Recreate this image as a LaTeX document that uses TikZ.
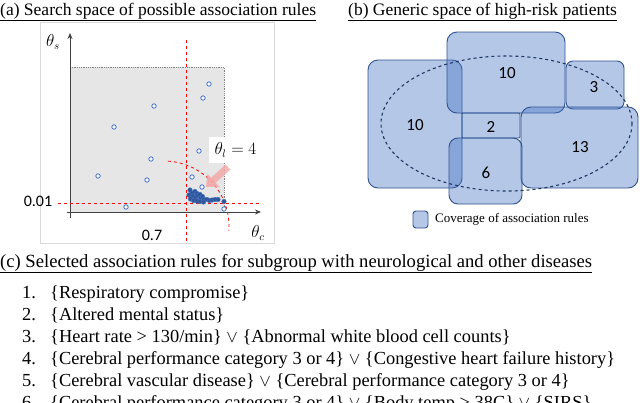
\documentclass[tikz,border=0pt]{standalone}
\usepackage{fontspec}
\setmainfont{Liberation Serif}
\newfontfamily\calib{Carlito}
\usetikzlibrary{arrows.meta}
\definecolor{boxfill}{HTML}{4472C4}
\definecolor{boxline}{HTML}{2F528F}
\definecolor{dotblue}{HTML}{4472C4}
\definecolor{darkdot}{HTML}{2F5597}
\definecolor{shadecol}{HTML}{E7E6E6}
\definecolor{framegray}{HTML}{D9D9D9}
\definecolor{axisgray}{HTML}{404040}
\definecolor{ellcol}{HTML}{1F3864}
\definecolor{pinkarrow}{HTML}{F4A6A6}
\definecolor{redcol}{HTML}{FF0000}
\tikzset{
  ttl/.style={anchor=base west, inner sep=0pt, font=\fontsize{17.5}{20}\selectfont},
  itemtxt/.style={anchor=base west, inner sep=0pt, font=\fontsize{18.4}{21}\selectfont},
  cov/.style={fill=boxfill, fill opacity=0.4, draw=boxline, line width=0.9pt, draw opacity=1},
  num/.style={inner sep=0pt, font=\calib\fontsize{17}{20}\selectfont},
  tick/.style={inner sep=0pt, font=\calib\fontsize{16}{19}\selectfont},
  mlab/.style={inner sep=0pt, font=\fontsize{16}{19}\selectfont},
  hollow/.style={draw=dotblue, fill=white, line width=0.8pt},
  solid dot/.style={draw=dotblue, fill=darkdot, line width=0.4pt},
  redline/.style={draw=redcol, dashed, line width=0.8pt},
  axisline/.style={axisgray, line width=0.8pt, -{Stealth[length=6pt,width=5pt]}}
}
\begin{document}
\begin{tikzpicture}[x=1pt,y=-1pt]
\useasboundingbox (0,0) rectangle (640,402);
\clip (0,0) rectangle (640,402);

% ---------- titles ----------
\node[ttl] (ta) at (0,15) {\underline{(a) Search space of possible association rules}};
\node[ttl] (tb) at (348,15) {\underline{(b) Generic space of high-risk patients}};
\node[ttl, font=\fontsize{18.6}{21}\selectfont] (tc) at (0,267) {\underline{(c) Selected association rules for subgroup with neurological and other diseases}};

% ---------- panel (a) ----------
\draw[framegray, line width=0.6pt] (40,22) rectangle (274,243);
\fill[shadecol] (70,67) rectangle (224,212);
\draw[gray, densely dotted, line width=0.8pt] (70,67) -- (224,67) -- (224,212);
\draw[axisline] (70,218) -- (70,33);
\draw[axisline] (67,212) -- (261,212);
\draw[redline] (58,203) -- (262,203);
\draw[redline] (186,40) -- (186,243);
\draw[redline] (164,226) ++(-86.6:65) arc[start angle=-86.6, end angle=4, radius=65];

% hollow points
\foreach \p in {(209,84),(203,98),(154,106),(114,127),(199,151),(151,159),(98,176),(147,180),(192,177),(202,187),(126,207),(224,209)}
  \draw[hollow] \p circle[radius=2.2];
% filled cluster
\foreach \p in {(190,190),(192,193),(195,191.5),(197,193.5),(193,196),(195.5,197.5),(198,195.5),(200,194.5),(200.5,198.5),(202.5,196.5),(204,199.5),(207,199.5),(209.5,200.5),(212,200),(215,199.5),(218,199.5),(189,195),(190.5,199),(193.5,200.5),(197,201),(200,201.5),(203.5,202),(224,201.5)}
  \draw[solid dot] \p circle[radius=2.3];

\draw[pinkarrow, opacity=0.8, line width=7pt, -{Triangle[length=10pt,width=17pt]}] (228,167) -- (206,187);
\node[fill=white, minimum width=53pt, minimum height=26pt, inner sep=0pt] (thl) at (235.5,150) {};
\node[mlab] (thltxt) at (thl.center) {$\theta_l = 4$};

\node[mlab] (ths) at (53,42) {$\theta_s$};
\node[mlab] (thc) at (258,233) {$\theta_c$};
\node[tick] (t001) at (38,201) {0.01};
\node[tick] (t07) at (152,235) {0.7};

% ---------- panel (b) ----------
\path[cov, rounded corners=10pt] (368,60) rectangle (462,188);
\path[cov, rounded corners=10pt] (447,32) rectangle (565,113);
\path[cov, rounded corners=7pt] (566,61) rectangle (624,109);
\path[cov, rounded corners=10pt] (521,107) rectangle (638,188);
\path[cov, rounded corners=9pt] (449,138) rectangle (522,204);
\path[cov, rounded corners=1pt] (462,113) rectangle (520,138);
\draw[ellcol, dashed, line width=1.1pt] (506.5,123.5) ellipse[x radius=125.5, y radius=67.5];

\node[num] (n1) at (507,73) {10};
\node[num] (n2) at (594,87) {3};
\node[num] (n3) at (415,125) {10};
\node[num] (n4) at (491,127) {2};
\node[num] (n5) at (580,147) {13};
\node[num] (n6) at (486,173) {6};

\path[cov, rounded corners=3pt] (413,211) rectangle (428,228);
\node[anchor=west, inner sep=0pt, font=\fontsize{13}{15}\selectfont] (leg) at (435,219.5) {Coverage of association rules};

% ---------- panel (c) ----------
\node[itemtxt] (i1n) at (22,298) {1.};
\node[itemtxt] (i1) at (50,298) {\{Respiratory compromise\}};
\node[itemtxt] (i2n) at (22,320) {2.};
\node[itemtxt] (i2) at (50,320) {\{Altered mental status\}};
\node[itemtxt] (i3n) at (22,342) {3.};
\node[itemtxt] (i3) at (50,342) {\{Heart rate > 130/min\} $\vee$ \{Abnormal white blood cell counts\}};
\node[itemtxt] (i4n) at (22,364) {4.};
\node[itemtxt] (i4) at (50,364) {\{Cerebral performance category 3 or 4\} $\vee$ \{Congestive heart failure history\}};
\node[itemtxt] (i5n) at (22,386) {5.};
\node[itemtxt] (i5) at (50,386) {\{Cerebral vascular disease\} $\vee$ \{Cerebral performance category 3 or 4\}};
\node[itemtxt] (i6n) at (22,408) {6.};
\node[itemtxt] (i6) at (50,408) {\{Cerebral performance category 3 or 4\} $\vee$ \{Body temp > 38C\} $\vee$ \{SIRS\}};
\end{tikzpicture}
\end{document}
